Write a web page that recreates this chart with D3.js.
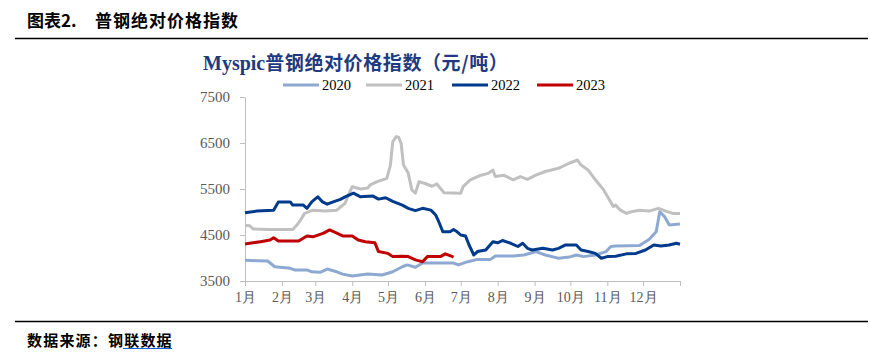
<!DOCTYPE html>
<html>
<head>
<meta charset="utf-8">
<script src="https://cdn.jsdelivr.net/npm/d3@7"></script>
<style>
  body { margin: 0; background: #fff; }
  svg { display: block; }
</style>
</head>
<body>
<div id="chart"></div>
<script>
// day of year (0 = 1 Jan) and index value (元/吨)
const days2020 = [0, 11, 19, 25, 38, 42, 52, 56, 63, 69, 77, 82, 90, 103, 115, 124, 132, 136, 143, 149, 160, 175, 179, 187, 195, 206, 210, 225, 234, 240, 244, 252, 263, 272, 278, 284, 294, 303, 307, 311, 331, 339, 345, 348, 352, 356, 365];
const vals2020 = [3950, 3940, 3935, 3810, 3775, 3740, 3740, 3700, 3690, 3760, 3700, 3650, 3610, 3650, 3630, 3700, 3810, 3850, 3800, 3890, 3890, 3890, 3850, 3920, 3970, 3970, 4045, 4045, 4065, 4110, 4140, 4065, 3995, 4020, 4065, 4030, 4065, 4140, 4250, 4260, 4270, 4400, 4570, 5005, 4900, 4717, 4740];

const days2021 = [0, 4, 7, 19, 40, 43, 46, 50, 57, 67, 77, 84, 88, 90, 97, 103, 105, 111, 119, 122, 124, 127, 129, 131, 133, 137, 140, 143, 146, 151, 157, 161, 167, 181, 183, 189, 198, 204, 208, 210, 217, 225, 231, 237, 244, 252, 263, 272, 279, 282, 288, 294, 301, 305, 309, 311, 315, 320, 324, 331, 339, 347, 353, 359, 365];
const vals2021 = [4710, 4700, 4630, 4620, 4620, 4700, 4800, 4970, 5040, 5020, 5040, 5190, 5440, 5550, 5500, 5520, 5590, 5660, 5730, 6020, 6530, 6640, 6620, 6490, 6020, 5840, 5480, 5410, 5660, 5620, 5560, 5610, 5420, 5410, 5550, 5700, 5800, 5840, 5910, 5770, 5800, 5700, 5770, 5710, 5800, 5880, 5950, 6060, 6130, 6020, 5910, 5700, 5480, 5300, 5120, 5150, 5040, 4970, 5005, 5040, 5020, 5080, 5020, 4970, 4970];

const days2022 = [0, 10, 24, 28, 38, 40, 49, 52, 56, 61, 65, 69, 74, 80, 84, 91, 97, 107, 112, 118, 124, 132, 137, 143, 149, 156, 160, 162, 166, 172, 175, 178, 181, 185, 188, 192, 195, 202, 208, 212, 216, 223, 229, 233, 237, 241, 250, 258, 263, 269, 278, 282, 288, 294, 299, 304, 311, 320, 328, 336, 343, 349, 356, 362, 365];
const vals2022 = [4985, 5020, 5040, 5220, 5220, 5150, 5150, 5080, 5220, 5330, 5220, 5170, 5220, 5275, 5330, 5410, 5330, 5350, 5280, 5310, 5230, 5150, 5080, 5030, 5080, 5040, 4935, 4825, 4570, 4570, 4620, 4570, 4500, 4480, 4283, 4065, 4140, 4174, 4355, 4330, 4380, 4320, 4250, 4320, 4210, 4174, 4210, 4174, 4210, 4283, 4283, 4174, 4140, 4100, 3995, 4030, 4040, 4090, 4100, 4174, 4283, 4260, 4283, 4320, 4300];

const days2023 = [0, 13, 21, 24, 28, 45, 52, 57, 66, 71, 77, 82, 90, 95, 101, 109, 112, 120, 124, 132, 137, 143, 149, 153, 164, 168, 172, 175];
const vals2023 = [4305, 4355, 4390, 4440, 4370, 4370, 4480, 4460, 4540, 4610, 4540, 4480, 4480, 4390, 4355, 4330, 4140, 4100, 4030, 4040, 4030, 3960, 3920, 4030, 4030, 4090, 4050, 4020];

const years = ['2020', '2021', '2022', '2023'];
const colors = ['#8EA9D1', '#C0C0C0', '#003A8C', '#C00000'];
const monthStarts = [0, 31, 59, 90, 120, 151, 181, 212, 243, 273, 304, 334];
const monthLabels = ['1月', '2月', '3月', '4月', '5月', '6月', '7月', '8月', '9月', '10月', '11月', '12月'];
const yTicks = [3500, 4500, 5500, 6500, 7500];

const series = [
  { days: days2020, vals: vals2020 },
  { days: days2021, vals: vals2021 },
  { days: days2022, vals: vals2022 },
  { days: days2023, vals: vals2023 },
];

// Variables
const w = 872;
const h = 356;
const plotLeft = 245;
const plotRight = 680;
const plotTop = 97;
const plotBottom = 281;
const axisGrey = '#BFBFBF';
const labelGrey = '#595959';
const serif = '"Liberation Serif", "Times New Roman", serif';
const cjk = '"Noto Sans CJK SC", sans-serif';

const svg = d3
  .select('#chart')
  .append('svg')
  .attr('width', w)
  .attr('height', h);

// Scales
const xScale = d3.scaleLinear().domain([0, 365]).range([plotLeft, plotRight]);
const yScale = d3.scaleLinear().domain([3500, 7500]).range([plotBottom, plotTop]);

// Page title + rules
const head = svg
  .append('g')
  .attr('font-family', cjk)
  .attr('font-weight', 'bold')
  .attr('font-size', '17px')
  .attr('fill', '#000');
head.append('text').attr('x', 27).attr('y', 27).text('图表2.');
head.append('text').attr('x', 95).attr('y', 27).attr('letter-spacing', '1px').text('普钢绝对价格指数');

svg.append('line').attr('x1', 15).attr('x2', 868).attr('y1', 38.5).attr('y2', 38.5)
  .attr('stroke', '#000').attr('stroke-width', 1.5);
svg.append('line').attr('x1', 15).attr('x2', 868).attr('y1', 321.5).attr('y2', 321.5)
  .attr('stroke', '#000').attr('stroke-width', 1.5);

// source
svg
  .append('text')
  .attr('x', 27)
  .attr('y', 346)
  .attr('font-family', cjk)
  .attr('font-weight', 'bold')
  .attr('font-size', '15px')
  .attr('letter-spacing', '1.2px')
  .attr('fill', '#000')
  .text('数据来源：钢联数据');
svg.append('line').attr('x1', 123).attr('x2', 172).attr('y1', 348.5).attr('y2', 348.5)
  .attr('stroke', '#1A5FD6').attr('stroke-width', 1.2);

// Chart title
const title = svg
  .append('text')
  .attr('x', 203)
  .attr('y', 70)
  .attr('font-weight', 'bold')
  .attr('font-size', '20px')
  .attr('fill', '#1F3A80');
title.append('tspan').attr('font-family', serif).text('Myspic');
title.append('tspan').attr('font-family', cjk).attr('font-size', '19px')
  .attr('letter-spacing', '0.6px').text('普钢绝对价格指数（元/吨）');

// Legend
const legendX = [283, 366, 452, 537];
const legend = svg
  .selectAll('.legend')
  .data(years)
  .enter()
  .append('g')
  .attr('class', 'legend')
  .attr('transform', (d, i) => `translate(${legendX[i]}, 85)`);
legend
  .append('line')
  .attr('x1', 0)
  .attr('x2', 36)
  .attr('stroke', (d, i) => colors[i])
  .attr('stroke-width', 3);
legend
  .append('text')
  .attr('x', 39)
  .attr('y', 5)
  .attr('font-family', serif)
  .attr('font-size', '14.5px')
  .attr('fill', '#000')
  .text(d => d);

// Axes
const yAxis = d3
  .axisLeft(yScale)
  .tickValues(yTicks)
  .tickSize(5)
  .tickSizeOuter(0)
  .tickPadding(10)
  .tickFormat(d3.format('d'));

const gy = svg
  .append('g')
  .attr('transform', `translate(${plotLeft}, 0)`)
  .call(yAxis);
gy.select('.domain').attr('stroke', axisGrey);
gy.selectAll('.tick line').attr('stroke', axisGrey);
gy.selectAll('.tick text')
  .attr('font-family', serif)
  .attr('font-size', '15px')
  .attr('fill', labelGrey);

const xAxis = d3
  .axisBottom(xScale)
  .tickValues(monthStarts.concat([365]))
  .tickSize(5)
  .tickSizeOuter(0)
  .tickPadding(6)
  .tickFormat((d, i) => monthLabels[i] || '');

const gx = svg
  .append('g')
  .attr('transform', `translate(0, ${plotBottom})`)
  .call(xAxis);
gx.select('.domain').attr('stroke', axisGrey);
gx.selectAll('.tick line').attr('stroke', axisGrey);
gx.selectAll('.tick text')
  .attr('font-family', serif)
  .attr('font-size', '14px')
  .attr('fill', labelGrey);

// Lines
const line = d3
  .line()
  .x(d => xScale(d[0]))
  .y(d => yScale(d[1]));

svg
  .selectAll('.series')
  .data(series)
  .enter()
  .append('path')
  .attr('class', 'series')
  .attr('fill', 'none')
  .attr('stroke', (d, i) => colors[i])
  .attr('stroke-width', 3)
  .attr('stroke-linejoin', 'round')
  .attr('d', d => line(d.days.map((day, i) => [day, d.vals[i]])));
</script>
</body>
</html>
